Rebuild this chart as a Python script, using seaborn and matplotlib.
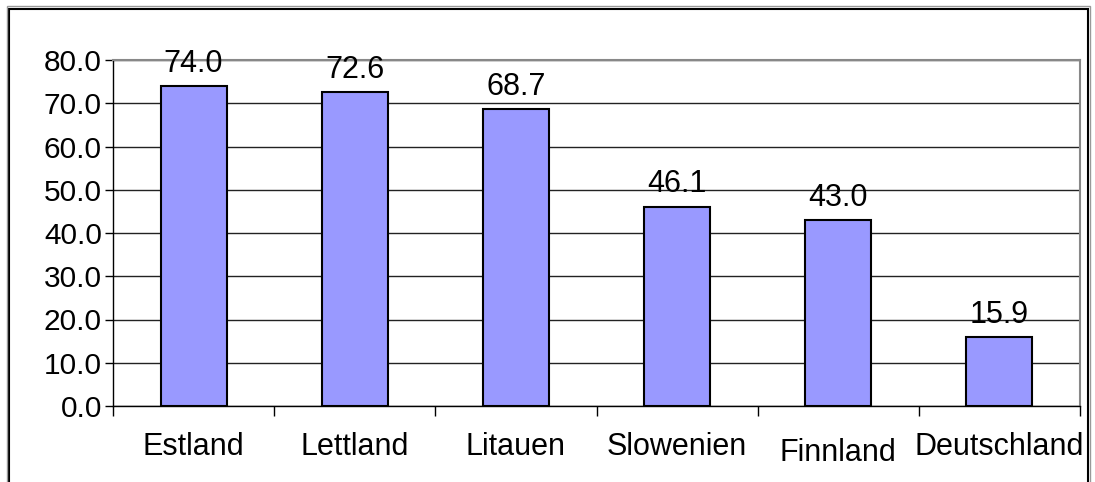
import matplotlib
matplotlib.use("Agg")
import matplotlib.pyplot as plt
import seaborn as sns
import pandas as pd
import numpy as np
from matplotlib.patches import Rectangle
from matplotlib.ticker import FixedLocator

categories = ["Estland", "Lettland", "Litauen", "Slowenien", "Finnland", "Deutschland"]
values = [74.0, 72.6, 68.7, 46.1, 43.0, 15.9]
yticks = [0, 10, 20, 30, 40, 50, 60, 70, 80]

df = pd.DataFrame({"Land": categories, "Wert": values})

sns.set_theme(style="white")
plt.rcParams["font.family"] = ["Liberation Sans", "DejaVu Sans"]

fig = plt.figure(figsize=(10.95, 4.82), dpi=100)
ax = fig.add_axes([113/1095, 1-406/482, (1080-113)/1095, (406-60)/482])

sns.barplot(data=df, x="Land", y="Wert", ax=ax, color="#9999FF", saturation=1,
            width=0.41, edgecolor="black", linewidth=1.5, zorder=3)

ax.set_ylim(0, 80)
ax.set_xlim(-0.5, len(categories) - 0.5)
ax.set_yticks(yticks)
ax.set_yticklabels([f"{v:.1f}" for v in yticks], fontsize=21.5, color="black")
ax.yaxis.grid(True, color="#222222", linewidth=1.0, zorder=0)
ax.set_axisbelow(True)

ax.set_xticks(np.arange(len(categories)))
ax.set_xticklabels(categories, fontsize=22, color="black")
ax.tick_params(axis="x", which="major", length=0, pad=19)
ax.xaxis.set_minor_locator(FixedLocator(np.arange(len(categories) + 1) - 0.5))
ax.tick_params(axis="x", which="minor", length=7, width=1, color="black", direction="out", bottom=True)
ax.tick_params(axis="y", which="major", length=6, width=1, color="black", direction="out", left=True, pad=2)
for lbl in ax.get_xticklabels():
    if lbl.get_text() == "Finnland":
        lbl.set_y(-0.015)

ax.set_xlabel("")
ax.set_ylabel("")

for s in ["top", "right"]:
    ax.spines[s].set_color("#888888")
    ax.spines[s].set_linewidth(1.5)
for s in ["left", "bottom"]:
    ax.spines[s].set_color("black")
    ax.spines[s].set_linewidth(1.0)

for i, v in enumerate(values):
    ax.text(i, v + 1.7, f"{v:.1f}", ha="center", va="bottom", fontsize=22, color="black", zorder=4)

fig.patches.append(Rectangle((9/1095, -0.05), (1088-9)/1095, 1.05 - 9/482,
                             transform=fig.transFigure, fill=False,
                             edgecolor="black", linewidth=1.5))
fig.patches.append(Rectangle((7/1095, -0.05), (1090-7)/1095, 1.05 - 6/482,
                             transform=fig.transFigure, fill=False,
                             edgecolor="#999999", linewidth=1.0))

fig.savefig("out.png", dpi=100)
